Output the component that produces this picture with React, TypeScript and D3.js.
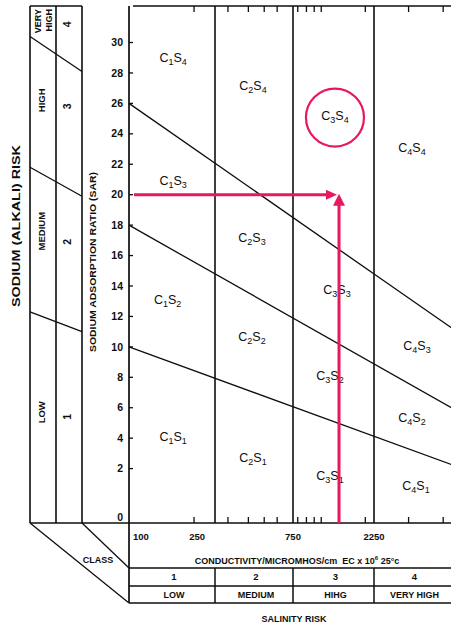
import React, { useEffect, useRef } from 'react';
import * as d3 from 'd3';

// SAR axis
const sarTicks = [0, 2, 4, 6, 8, 10, 12, 14, 16, 18, 20, 22, 24, 26, 28, 30];

// conductivity axis (EC micromhos/cm)
const ecLabels = [100, 250, 750, 2250];
const ecMinorTicks = [200, 300, 400, 500, 600, 800, 900, 1000, 1100, 2000, 3000, 4000];
const classBounds = [250, 750, 2250];
const salinityClasses = ['1', '2', '3', '4'];
const salinityNames = ['LOW', 'MEDIUM', 'HIHG', 'VERY HIGH'];

// sodium hazard panel
const sodiumNames = ['LOW', 'MEDIUM', 'HIGH'];
const sodiumNameSar = [5.7, 17.6, 26.2];
const sodiumNumbers = ['1', '2', '3', '4'];
const sodiumNumberSar = [5.4, 16.9, 25.8, 31.2];
const sodiumLines = [[12.3, 11.0], [21.8, 19.9], [30.4, 28.1]]; // SAR at left / right of panel

// hazard boundaries: SAR at EC 100 and at EC 5000
const hazardLines = [[10, 1.9], [18, 5.3], [26, 10.4]];

// cell labels C{c}S{s} placed at [EC, SAR]
const cellC = [1, 2, 3, 4, 1, 2, 3, 4, 1, 2, 3, 4, 1, 2, 3, 4];
const cellS = [4, 4, 4, 4, 3, 3, 3, 3, 2, 2, 2, 2, 1, 1, 1, 1];
const cellEc = [160, 427, 1325, 3087, 160, 421, 1362, 3217, 151, 421, 1239, 3087, 160, 427, 1239, 3190];
const cellSar = [29.0, 27.2, 25.2, 23.1, 20.9, 17.2, 13.75, 10.1, 13.1, 10.65, 8.1, 5.33, 4.1, 2.75, 1.76, 1.36];

// worked example
const sample = { ec: 1400, sar: 20, cell: 2 };

const PINK = '#e8185c';
const INK = '#0e0e0e';
const FONT = '"Liberation Sans", Arial, sans-serif';

const SalinityDiagram = () => {
  const ref = useRef(null);

  useEffect(() => {
    const width = 451;
    const height = 628;
    const top = 6;
    const panelX = [30, 56, 82];
    const tableY = [568, 586, 603];

    const x = d3.scaleLog()
      .domain([100, 250, 750, 2250, 5000])
      .range([129, 215, 293, 374, 470]);

    const y = d3.scaleLinear()
      .domain([0, 2, 32.4])
      .range([523, 468.6, top]);

    const base = y(0);
    const left = x(100);

    const svg = d3.select(ref.current)
      .attr('width', width)
      .attr('height', height)
      .attr('viewBox', [0, 0, width, height])
      .style('position', 'absolute')
      .style('left', 0)
      .style('top', 0)
      .style('background', '#fff')
      .attr('font-family', FONT);
    svg.selectAll('*').remove();

    const lines = svg.append('g').attr('stroke', INK).attr('fill', 'none');
    const seg = (x1, y1, x2, y2, w = 1.5) =>
      lines.append('line').attr('x1', x1).attr('y1', y1).attr('x2', x2).attr('y2', y2).attr('stroke-width', w);

    // frame of plot
    seg(left + 4, top, width, top);
    seg(left, top, left, tableY[2], 1.7);
    seg(panelX[0], base, width, base, 1.7);
    classBounds.forEach(v => seg(x(v), top, x(v), base, 1.6));

    // sodium panel
    seg(panelX[0], top, panelX[2], top);
    panelX.forEach(px => seg(px, top, px, base, 1.6));
    sodiumLines.forEach(([a, b]) => seg(panelX[0], y(a), panelX[2], y(b), 1.3));

    // class table + slanted lines
    seg(panelX[0], base, left, tableY[2], 1.3);
    seg(panelX[2], base, left, tableY[0], 1.3);
    tableY.forEach(ty => seg(left, ty, width, ty, 1.5));
    classBounds.forEach(v => seg(x(v), tableY[0], x(v), tableY[2], 1.5));

    // hazard boundary lines
    hazardLines.forEach(([a, b]) => seg(x(100), y(a), x(5000), y(b), 1.3));

    // ticks
    ecMinorTicks.forEach(v => {
      seg(x(v), base, x(v), base - 6, 1.3);
      seg(x(v), top, x(v), top + 6, 1.3);
    });
    sarTicks.filter(v => v > 0).forEach(v => seg(left, y(v), left + 4, y(v), 1.3));

    const txt = svg.append('g').attr('fill', INK);

    // SAR tick labels
    txt.selectAll('.sar')
      .data(sarTicks)
      .join('text')
      .attr('x', 123)
      .attr('y', d => (d === 0 ? y(d) - 6 : y(d)))
      .attr('dy', '0.35em')
      .attr('text-anchor', 'end')
      .attr('font-size', 10.5)
      .attr('font-weight', 'bold')
      .text(d => d);

    // EC labels
    const ecAnchor = ['start', 'end', 'middle', 'middle'];
    const ecShift = [4, -10, 0, 0];
    txt.selectAll('.ec')
      .data(ecLabels)
      .join('text')
      .attr('x', (d, i) => x(d) + ecShift[i])
      .attr('y', 537)
      .attr('dy', '0.35em')
      .attr('text-anchor', (d, i) => ecAnchor[i])
      .attr('font-size', 9.5)
      .attr('font-weight', 'bold')
      .text(d => d);

    const cond = txt.append('text')
      .attr('x', 297)
      .attr('y', 561)
      .attr('dy', '0.35em')
      .attr('text-anchor', 'middle')
      .attr('font-size', 9)
      .attr('font-weight', 'bold');
    cond.append('tspan').text('CONDUCTIVITY/MICROMHOS/cm\u00a0\u00a0EC x 10');
    cond.append('tspan').attr('dy', -4).attr('font-size', 6).text('6');
    cond.append('tspan').attr('dy', 4).text(' 25°c');

    txt.append('text')
      .attr('x', 98)
      .attr('y', 560)
      .attr('dy', '0.35em')
      .attr('text-anchor', 'middle')
      .attr('font-size', 9)
      .attr('font-weight', 'bold')
      .text('CLASS');

    // table cells
    const cellMid = i => {
      const edges = [100, ...classBounds];
      const x0 = x(edges[i]);
      const x1 = i < classBounds.length ? x(classBounds[i]) : width;
      return (x0 + x1) / 2;
    };
    salinityClasses.forEach((c, i) => {
      txt.append('text')
        .attr('x', cellMid(i) + 2)
        .attr('y', (tableY[0] + tableY[1]) / 2)
        .attr('dy', '0.35em')
        .attr('text-anchor', 'middle')
        .attr('font-size', 9.5)
        .attr('font-weight', 'bold')
        .text(c);
    });
    salinityNames.forEach((c, i) => {
      txt.append('text')
        .attr('x', cellMid(i) + 2)
        .attr('y', (tableY[1] + tableY[2]) / 2)
        .attr('dy', '0.35em')
        .attr('text-anchor', 'middle')
        .attr('font-size', 9)
        .attr('font-weight', 'bold')
        .text(c);
    });

    txt.append('text')
      .attr('x', 294)
      .attr('y', 619)
      .attr('dy', '0.35em')
      .attr('text-anchor', 'middle')
      .attr('font-size', 9)
      .attr('font-weight', 'bold')
      .text('SALINITY RISK');

    // rotated labels
    const vtext = (tx, ty, s, size, anchor = 'middle', weight = 'bold') =>
      txt.append('text')
        .attr('transform', `translate(${tx},${ty}) rotate(-90)`)
        .attr('dy', '0.35em')
        .attr('text-anchor', anchor)
        .attr('font-size', size)
        .attr('font-weight', weight)
        .text(s);

    const col1 = (panelX[0] + panelX[1]) / 2;
    const col2 = (panelX[1] + panelX[2]) / 2;
    sodiumNames.forEach((s, i) => vtext(col1 - 1, y(sodiumNameSar[i]), s, 9.5));
    vtext(col1 - 5, top + 3, 'VERY', 9, 'end');
    vtext(col1 + 6, top + 3, 'HIGH', 9, 'end');
    sodiumNumbers.forEach((s, i) => vtext(col2 - 2, y(sodiumNumberSar[i]), s, 10.5));

    vtext(16, 226, 'SODIUM (ALKALI) RISK', 10.5)
      .attr('textLength', 162).attr('lengthAdjust', 'spacingAndGlyphs');
    vtext(93, 262, 'SODIUM ADSORPTION RATIO (SAR)', 9.5)
      .attr('textLength', 180).attr('lengthAdjust', 'spacingAndGlyphs');

    // cell labels with subscripts
    cellC.forEach((c, i) => {
      const t = txt.append('text')
        .attr('x', x(cellEc[i]))
        .attr('y', y(cellSar[i]))
        .attr('dy', '0.35em')
        .attr('text-anchor', 'middle')
        .attr('font-size', 12.5);
      t.append('tspan').text('C');
      t.append('tspan').attr('font-size', 9).attr('dy', 3).text(c);
      t.append('tspan').attr('dy', -3).text('S');
      t.append('tspan').attr('font-size', 9).attr('dy', 3).text(cellS[i]);
    });

    // worked example in pink
    const pink = svg.append('g');
    pink.append('circle')
      .attr('cx', x(cellEc[sample.cell]))
      .attr('cy', y(cellSar[sample.cell]) + 2)
      .attr('r', 29)
      .attr('fill', 'none')
      .attr('stroke', PINK)
      .attr('stroke-width', 2.2);

    const px = x(sample.ec);
    const py = y(sample.sar);
    const hx = px - 2;
    pink.append('line')
      .attr('x1', left + 5).attr('y1', py)
      .attr('x2', hx - 9).attr('y2', py)
      .attr('stroke', PINK).attr('stroke-width', 3);
    pink.append('path')
      .attr('d', `M${hx},${py} L${hx - 11},${py - 5} L${hx - 11},${py + 5} Z`)
      .attr('fill', PINK);

    const vy = py - 1;
    pink.append('line')
      .attr('x1', px).attr('y1', base)
      .attr('x2', px).attr('y2', vy + 9)
      .attr('stroke', PINK).attr('stroke-width', 3);
    pink.append('path')
      .attr('d', `M${px},${vy} L${px - 6},${vy + 12} L${px + 6},${vy + 12} Z`)
      .attr('fill', PINK);
  }, []);

  return <svg ref={ref} />;
};

export default function App() {
  return <SalinityDiagram />;
}
